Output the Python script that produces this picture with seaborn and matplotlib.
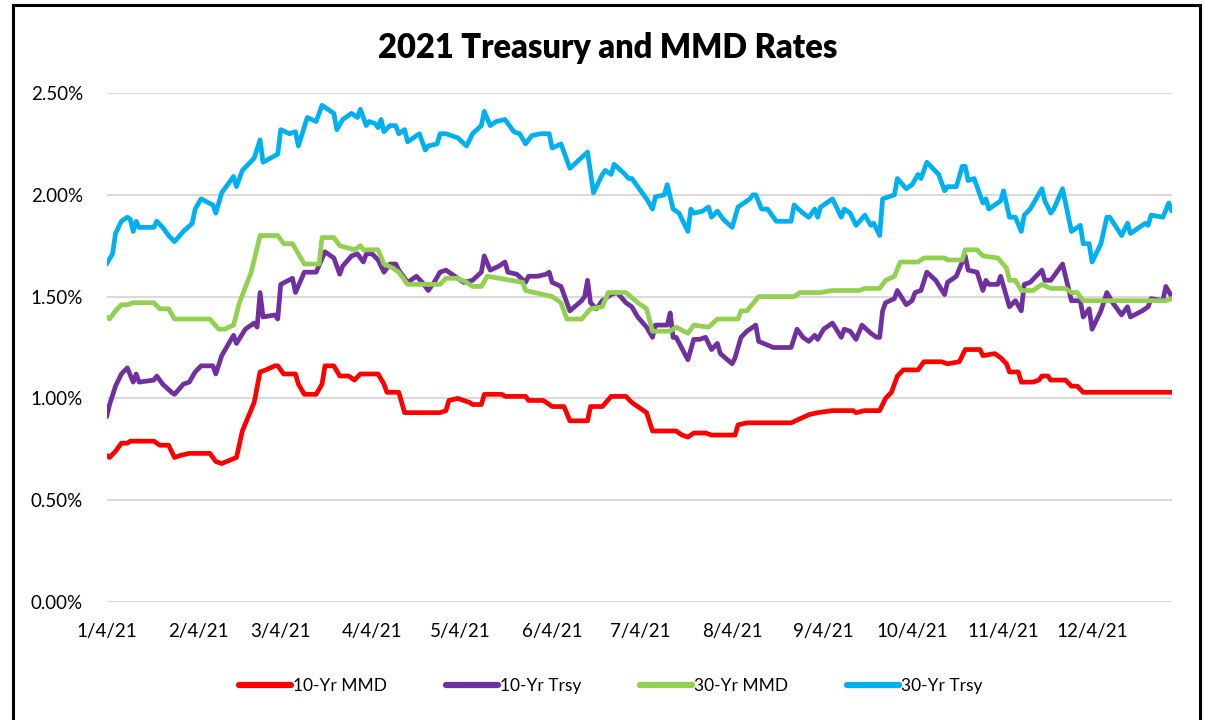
import pandas as pd
import matplotlib.pyplot as plt
import matplotlib.ticker as mticker
from matplotlib.patches import Rectangle
import seaborn as sns

# Days are counted from 1/4/21; values in percent
mmd10_day = [0, 1, 3, 5, 7, 8, 16, 18, 21, 22, 23, 25, 28, 35, 37, 39, 44, 46, 50, 52, 54, 57, 58, 60,
             64, 65, 67, 71, 73, 74, 77, 79, 82, 84, 86, 88, 92, 94, 95, 99, 101, 113, 115, 116, 119,
             121, 123, 124, 127, 128, 134, 135, 142, 143, 145, 148, 149, 151, 155, 157, 163, 164, 168,
             171, 176, 178, 180, 183, 185, 193, 195, 197, 199, 203, 205, 213, 214, 217, 232, 235, 238,
             241, 246, 253, 254, 257, 262, 264, 266, 268, 270, 275, 276, 277, 283, 285, 289, 291, 296,
             297, 301, 303, 305, 306, 309, 310, 314, 316, 317, 319, 320, 325, 327, 329, 331, 361]
mmd10_val = [0.72, 0.71, 0.74, 0.78, 0.78, 0.79, 0.79, 0.77, 0.77, 0.74, 0.71, 0.72, 0.73, 0.73, 0.69,
             0.68, 0.71, 0.84, 0.98, 1.13, 1.14, 1.16, 1.16, 1.12, 1.12, 1.07, 1.02, 1.02, 1.07, 1.16,
             1.16, 1.11, 1.11, 1.09, 1.12, 1.12, 1.12, 1.07, 1.03, 1.03, 0.93, 0.93, 0.94, 0.99, 1.00,
             0.99, 0.98, 0.97, 0.97, 1.02, 1.02, 1.01, 1.01, 0.99, 0.99, 0.99, 0.98, 0.96, 0.96, 0.89,
             0.89, 0.96, 0.96, 1.01, 1.01, 0.98, 0.96, 0.93, 0.84, 0.84, 0.82, 0.81, 0.83, 0.83, 0.82,
             0.82, 0.87, 0.88, 0.88, 0.90, 0.92, 0.93, 0.94, 0.94, 0.93, 0.94, 0.94, 1.00, 1.03, 1.11,
             1.14, 1.14, 1.16, 1.18, 1.18, 1.17, 1.18, 1.24, 1.24, 1.21, 1.22, 1.20, 1.17, 1.13, 1.13,
             1.08, 1.08, 1.09, 1.11, 1.11, 1.09, 1.09, 1.06, 1.06, 1.03, 1.03]

trsy10_day = [0, 1, 3, 5, 7, 9, 10, 11, 16, 17, 19, 22, 23, 26, 28, 30, 32, 36, 37, 39, 43, 44, 47, 50,
              51, 52, 53, 57, 58, 59, 63, 64, 67, 71, 74, 77, 79, 80, 83, 85, 87, 88, 90, 92, 94, 96,
              98, 99, 102, 103, 105, 107, 109, 111, 113, 115, 118, 121, 124, 127, 128, 130, 133, 135,
              136, 139, 142, 143, 146, 149, 150, 151, 154, 157, 161, 162, 163, 164, 166, 168, 171, 173,
              176, 178, 180, 183, 185, 186, 190, 191, 192, 193, 197, 199, 201, 203, 205, 207, 208, 212,
              213, 215, 217, 219, 220, 221, 226, 228, 232, 234, 236, 238, 240, 241, 243, 246, 249, 250,
              252, 254, 256, 259, 261, 262, 263, 264, 267, 268, 271, 273, 274, 276, 278, 281, 284, 285,
              288, 290, 291, 292, 295, 297, 298, 299, 302, 303, 306, 308, 310, 311, 313, 317, 318, 320,
              324, 327, 328, 330, 331, 333, 334, 337, 339, 341, 344, 346, 347, 351, 353, 354, 358, 359, 361]
trsy10_val = [0.91, 0.97, 1.06, 1.12, 1.15, 1.08, 1.12, 1.08, 1.09, 1.11, 1.07, 1.03, 1.02, 1.07, 1.08,
              1.13, 1.16, 1.16, 1.12, 1.21, 1.31, 1.27, 1.34, 1.37, 1.35, 1.52, 1.40, 1.41, 1.39, 1.56,
              1.59, 1.52, 1.62, 1.62, 1.72, 1.69, 1.61, 1.65, 1.70, 1.71, 1.67, 1.71, 1.71, 1.68, 1.62,
              1.66, 1.66, 1.63, 1.57, 1.58, 1.60, 1.57, 1.53, 1.57, 1.62, 1.63, 1.60, 1.57, 1.58, 1.62,
              1.70, 1.63, 1.65, 1.67, 1.62, 1.61, 1.57, 1.60, 1.60, 1.61, 1.62, 1.57, 1.55, 1.43, 1.48,
              1.50, 1.58, 1.47, 1.44, 1.48, 1.51, 1.52, 1.47, 1.45, 1.40, 1.35, 1.30, 1.36, 1.36, 1.42,
              1.30, 1.30, 1.19, 1.29, 1.29, 1.30, 1.24, 1.27, 1.22, 1.17, 1.20, 1.30, 1.33, 1.35, 1.36,
              1.28, 1.25, 1.25, 1.25, 1.34, 1.30, 1.28, 1.31, 1.29, 1.34, 1.37, 1.30, 1.34, 1.33, 1.29,
              1.36, 1.32, 1.30, 1.30, 1.43, 1.47, 1.49, 1.53, 1.46, 1.48, 1.52, 1.53, 1.62, 1.58, 1.51,
              1.57, 1.60, 1.67, 1.70, 1.63, 1.62, 1.53, 1.58, 1.56, 1.56, 1.60, 1.45, 1.48, 1.43, 1.56,
              1.57, 1.63, 1.58, 1.58, 1.66, 1.48, 1.48, 1.48, 1.40, 1.44, 1.34, 1.43, 1.52, 1.47, 1.41,
              1.45, 1.40, 1.43, 1.45, 1.49, 1.48, 1.55, 1.50]

mmd30_day = [0, 1, 3, 5, 7, 9, 16, 18, 21, 23, 35, 38, 40, 43, 45, 49, 52, 58, 60, 63, 67, 72, 73, 77,
             79, 84, 86, 87, 92, 94, 97, 99, 102, 113, 115, 119, 122, 124, 127, 129, 133, 141, 142, 148,
             151, 154, 156, 161, 164, 168, 170, 176, 180, 183, 185, 191, 193, 197, 199, 204, 207, 214,
             215, 217, 221, 233, 235, 242, 246, 255, 257, 262, 264, 267, 269, 275, 277, 284, 285, 290,
             291, 295, 297, 302, 305, 306, 308, 310, 314, 317, 320, 325, 327, 329, 331, 359, 361]
mmd30_val = [1.40, 1.39, 1.43, 1.46, 1.46, 1.47, 1.47, 1.44, 1.44, 1.39, 1.39, 1.34, 1.34, 1.36, 1.47,
             1.62, 1.80, 1.80, 1.76, 1.76, 1.66, 1.66, 1.79, 1.79, 1.75, 1.73, 1.75, 1.73, 1.73, 1.66,
             1.64, 1.62, 1.56, 1.56, 1.59, 1.59, 1.57, 1.55, 1.55, 1.60, 1.59, 1.57, 1.53, 1.51, 1.50,
             1.47, 1.39, 1.39, 1.44, 1.45, 1.52, 1.52, 1.47, 1.44, 1.33, 1.33, 1.35, 1.32, 1.36, 1.35,
             1.39, 1.39, 1.43, 1.43, 1.50, 1.50, 1.52, 1.52, 1.53, 1.53, 1.54, 1.54, 1.58, 1.60, 1.67,
             1.67, 1.69, 1.69, 1.68, 1.68, 1.73, 1.73, 1.70, 1.69, 1.64, 1.58, 1.58, 1.53, 1.53, 1.56,
             1.54, 1.54, 1.52, 1.52, 1.48, 1.48, 1.49]

trsy30_day = [0, 2, 3, 5, 7, 8, 9, 10, 11, 16, 17, 19, 21, 23, 26, 29, 30, 32, 36, 37, 39, 43, 44, 46,
              50, 52, 53, 58, 59, 62, 64, 65, 68, 71, 73, 77, 78, 80, 83, 85, 86, 88, 89, 91, 92, 93,
              94, 96, 98, 99, 101, 102, 106, 108, 109, 112, 113, 115, 119, 122, 124, 127, 128, 130, 132,
              135, 138, 140, 142, 144, 147, 150, 151, 154, 157, 163, 165, 168, 169, 171, 172, 175, 177,
              178, 183, 185, 186, 189, 190, 192, 194, 197, 198, 199, 202, 204, 205, 207, 209, 212, 214,
              218, 219, 220, 222, 224, 227, 232, 233, 236, 238, 240, 241, 242, 246, 249, 250, 252, 254,
              257, 259, 260, 262, 263, 265, 267, 268, 271, 273, 275, 276, 278, 282, 284, 285, 288, 290,
              291, 292, 294, 297, 298, 299, 303, 304, 306, 308, 310, 311, 313, 317, 318, 320, 321, 324,
              327, 330, 331, 333, 334, 337, 339, 340, 344, 346, 347, 352, 353, 354, 358, 360, 361]
trsy30_val = [1.66, 1.71, 1.81, 1.87, 1.89, 1.88, 1.82, 1.87, 1.84, 1.84, 1.87, 1.84, 1.80, 1.77, 1.82,
              1.86, 1.93, 1.98, 1.95, 1.91, 2.01, 2.09, 2.04, 2.12, 2.18, 2.27, 2.16, 2.20, 2.32, 2.30,
              2.31, 2.24, 2.38, 2.36, 2.44, 2.40, 2.32, 2.37, 2.40, 2.38, 2.42, 2.34, 2.36, 2.35, 2.33,
              2.37, 2.31, 2.34, 2.34, 2.30, 2.32, 2.26, 2.30, 2.22, 2.24, 2.25, 2.30, 2.30, 2.28, 2.24,
              2.30, 2.34, 2.41, 2.34, 2.36, 2.37, 2.31, 2.30, 2.25, 2.29, 2.30, 2.30, 2.23, 2.25, 2.13,
              2.21, 2.01, 2.10, 2.12, 2.10, 2.15, 2.11, 2.08, 2.08, 1.98, 1.93, 1.99, 2.00, 2.05, 1.93,
              1.91, 1.82, 1.93, 1.91, 1.92, 1.94, 1.89, 1.92, 1.88, 1.84, 1.94, 1.98, 2.00, 2.00, 1.93,
              1.93, 1.87, 1.87, 1.95, 1.91, 1.89, 1.93, 1.89, 1.94, 1.98, 1.89, 1.93, 1.91, 1.85, 1.90,
              1.85, 1.86, 1.80, 1.98, 1.99, 2.00, 2.08, 2.03, 2.05, 2.10, 2.08, 2.16, 2.10, 2.02, 2.04,
              2.04, 2.14, 2.14, 2.07, 2.08, 1.96, 1.98, 1.93, 1.97, 2.02, 1.89, 1.89, 1.82, 1.90, 1.93,
              2.03, 1.97, 1.91, 1.93, 2.03, 1.82, 1.85, 1.76, 1.76, 1.67, 1.76, 1.89, 1.89, 1.80, 1.86,
              1.81, 1.86, 1.85, 1.90, 1.89, 1.96, 1.92]

series_names = ["10-Yr MMD", "10-Yr Trsy", "30-Yr MMD", "30-Yr Trsy"]
series_colors = ["#FF0000", "#7030A0", "#92D050", "#00B0F0"]
tick_dates = ["2021-01-04", "2021-02-04", "2021-03-04", "2021-04-04", "2021-05-04", "2021-06-04",
              "2021-07-04", "2021-08-04", "2021-09-04", "2021-10-04", "2021-11-04", "2021-12-04"]

start = pd.Timestamp("2021-01-04")
frames = []
for name, days, vals in zip(series_names,
                            [mmd10_day, trsy10_day, mmd30_day, trsy30_day],
                            [mmd10_val, trsy10_val, mmd30_val, trsy30_val]):
    frames.append(pd.DataFrame({"date": start + pd.to_timedelta(days, unit="D"),
                                "rate": vals, "series": name}))
df = pd.concat(frames, ignore_index=True)

sns.set_theme(style="white")
plt.rcParams["font.family"] = ["Lato", "DejaVu Sans"]
plt.rcParams["text.color"] = "black"

fig = plt.figure(figsize=(12.05, 7.2), dpi=100)
ax = fig.add_axes([0.0885, 0.1639, 0.8839, 0.7069])

sns.lineplot(data=df, x="date", y="rate", hue="series", hue_order=series_names,
             palette=series_colors, estimator=None, sort=False, linewidth=3.4, ax=ax)

ax.set_xlim(start, pd.Timestamp("2021-12-31"))
ax.set_ylim(0, 2.5)
ax.set_yticks([0, 0.5, 1.0, 1.5, 2.0, 2.5])
ax.yaxis.set_major_formatter(mticker.FuncFormatter(lambda v, p: f"{v:.2f}%"))
ticks = pd.to_datetime(tick_dates)
ax.set_xticks(ticks)
ax.set_xticklabels([f"{t.month}/{t.day}/{t.year % 100}" for t in ticks])
ax.tick_params(axis="both", length=0, labelsize=13.5, colors="black")
ax.tick_params(axis="y", pad=17)
ax.tick_params(axis="x", pad=15)
ax.set_xlabel("")
ax.set_ylabel("")
ax.yaxis.grid(True, color="#D9D9D9", linewidth=1.4)
ax.xaxis.grid(False)
ax.set_axisbelow(True)
for s in ax.spines.values():
    s.set_visible(False)

handles, labels = ax.get_legend_handles_labels()
ax.get_legend().remove()
leg = fig.legend(handles, labels, loc="center", bbox_to_anchor=(0.507, 0.047), ncol=4,
                 frameon=False, fontsize=12.5, handlelength=3.0, handletextpad=0.1,
                 columnspacing=3.4, labelcolor="black")
for line in leg.get_lines():
    line.set_linewidth(4.5)

fig.text(0.504, 1 - 48 / 720, "2021 Treasury and MMD Rates", ha="center", va="center",
         fontsize=23.5, fontweight="heavy", color="black")

fig.patches.append(Rectangle((13 / 1205, -0.02), 1187 / 1205, 1.02 - 5 / 720,
                             transform=fig.transFigure, fill=False, edgecolor="black",
                             linewidth=2.2))

fig.savefig("out.png", dpi=100)
